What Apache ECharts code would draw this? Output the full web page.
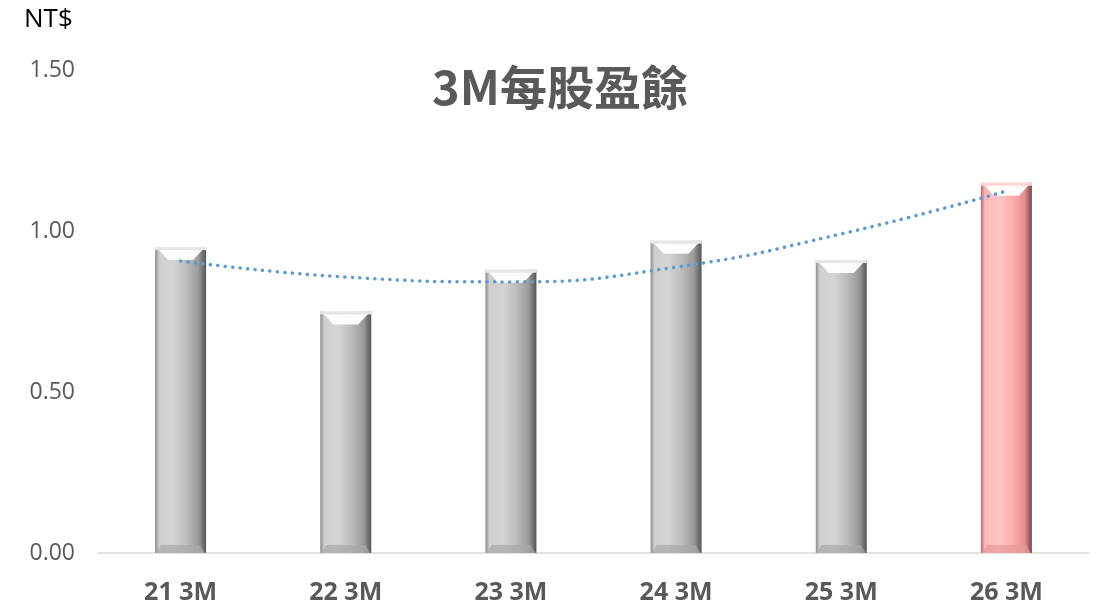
<!DOCTYPE html>
<html><head><meta charset="utf-8">
<script src="https://cdn.jsdelivr.net/npm/echarts@6/dist/echarts.min.js"></script>
<style>html,body{margin:0;padding:0;background:#fff}#c{width:1096px;height:607px}</style>
</head><body><div id="c"></div>
<script>
const categories = ['21 3M','22 3M','23 3M','24 3M','25 3M','26 3M'];
const eps = [0.95, 0.75, 0.88, 0.97, 0.91, 1.15];
const trend = [0.907, 0.857, 0.842, 0.888, 0.991, 1.124];
const yTicks = [0, 0.5, 1.0, 1.5];

const chart = echarts.init(document.getElementById('c'));
function grad(hl){
  const s = hl ? ['#b07070','#ffb6b6','#ffc4c4','#ffaeae','#e89090','#7a4a4a'] : ['#8c8c8c','#cfcfcf','#d4d4d4','#bdbdbd','#9a9a9a','#555555'];
  return new echarts.graphic.LinearGradient(0,0,1,0,[
    {offset:0,color:s[0]},{offset:0.08,color:s[1]},{offset:0.35,color:s[2]},
    {offset:0.6,color:s[3]},{offset:0.85,color:s[4]},{offset:1,color:s[5]}]);
}
chart.setOption({
  animation:false,
  title:{text:'3M每股盈餘',left:555,top:59,textAlign:'center',
    textStyle:{fontSize:47,fontWeight:'bold',color:'#595959',fontFamily:'"Noto Sans CJK TC","Noto Sans",sans-serif'}},
  graphic:[{type:'text',left:24,top:7,style:{text:'NT$',fontSize:26,fill:'#000',fontFamily:'"Open Sans","Noto Sans",sans-serif'}}],
  grid:{left:98,right:7,top:70,bottom:54},
  xAxis:{type:'category',data:categories,
    axisLine:{lineStyle:{color:'#d9d9d9',width:1.5}},axisTick:{show:false},
    axisLabel:{margin:27,fontSize:25,fontWeight:'bold',color:'#595959',fontFamily:'"Open Sans","Noto Sans",sans-serif'}},
  yAxis:{type:'value',min:0,max:1.5,interval:0.5,splitLine:{show:false},
    axisLine:{show:false},axisTick:{show:false},
    axisLabel:{margin:23,fontSize:23,color:'#595959',fontFamily:'"Open Sans","Noto Sans",sans-serif',
      formatter:v=>yTicks.includes(v)?v.toFixed(2):''}},
  series:[
    {type:'custom',data:eps.map((v,i)=>[i,v]),z:2,
     renderItem:function(params,api){
       const i=api.value(0),v=api.value(1);
       const top=api.coord([i,v]),base=api.coord([i,0]);
       const w=51,x=top[0]-w/2,y=top[1],h=base[1]-top[1];
       const hl=i===eps.length-1;
       const b=13;
       return {type:'group',children:[
         {type:'rect',shape:{x:x,y:y,width:w,height:h},style:{fill:grad(hl)}},
         {type:'polygon',shape:{points:[[x+1,y],[x+w-1,y],[x+w-b,y+b],[x+b,y+b]]},
          style:{fill:'#ffffff',opacity:0.95}},
         {type:'rect',shape:{x:x,y:y,width:w,height:3},style:{fill:hl?'#ffd6d6':'#e6e6e6'}},
         {type:'polygon',shape:{points:[[x+6,base[1]-8],[x+w-6,base[1]-8],[x+w-1,base[1]],[x+1,base[1]]]},
          style:{fill:hl?'#e89a9a':'#a8a8a8',opacity:0.7}}
       ]};
     }},
    {type:'line',data:trend,smooth:true,symbol:'none',z:3,
     lineStyle:{color:'#5b9bd5',width:3.5,type:[0.1,7.4],cap:'round'}}
  ]
});
</script></body></html>
